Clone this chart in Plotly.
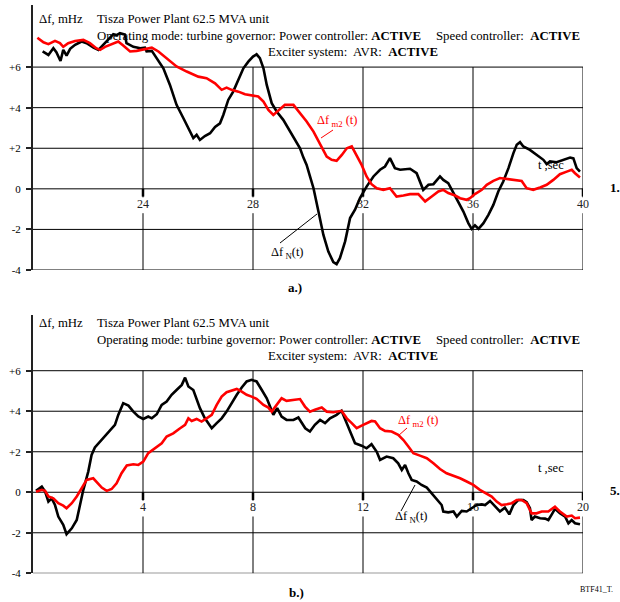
import plotly.graph_objects as go

W, H = 620, 602

# ---------------- data ----------------
top_N_t = [20.35, 20.56, 20.74, 20.85, 21.0, 21.1, 21.22, 21.35, 21.53, 21.77, 21.95, 22.2, 22.38, 22.56,
           22.8, 22.92, 23.04, 23.16, 23.34, 23.4, 23.65, 23.9, 24.07, 24.13, 24.32, 24.5, 24.74, 24.98,
           25.22, 25.47, 25.65, 25.83, 25.95, 26.07, 26.25, 26.44, 26.62, 26.8, 26.92, 27.1, 27.28, 27.47,
           27.65, 27.83, 28.0, 28.13, 28.25, 28.38, 28.5, 28.68, 28.86, 29.1, 29.28, 29.47, 29.71, 29.83,
           29.95, 30.07, 30.2, 30.38, 30.56, 30.74, 30.92, 31.04, 31.16, 31.35, 31.53, 31.71, 31.89, 32.13,
           32.38, 32.62, 32.8, 32.98, 33.16, 33.35, 33.71, 33.95, 34.19, 34.38, 34.56, 34.8, 34.92, 35.1,
           35.29, 35.47, 35.65, 35.83, 35.95, 36.07, 36.2, 36.38, 36.56, 36.74, 36.92, 37.1, 37.29, 37.47,
           37.59, 37.71, 37.83, 38.07, 38.31, 38.56, 38.68, 38.8, 39.04, 39.28, 39.53, 39.65, 39.77, 39.89]
top_N = [6.77, 6.6, 6.93, 6.73, 6.3, 6.85, 6.57, 6.9, 7.1, 7.26, 7.18, 6.96, 6.85, 7.1,
         7.45, 7.62, 7.58, 7.67, 7.6, 7.18, 7.0, 6.93, 6.96, 6.77, 6.8, 6.44, 5.94, 5.12,
         4.14, 3.48, 2.99, 2.5, 2.66, 2.41, 2.6, 2.74, 3.05, 3.23, 3.64, 4.38, 4.79, 5.37,
         5.94, 6.27, 6.52, 6.63, 6.44, 5.94, 5.12, 4.22, 3.81, 3.4, 2.99, 2.5, 2.0, 1.55,
         1.18, 0.63, 0.03, -1.12, -2.27, -3.09, -3.61, -3.71, -3.42, -2.59, -1.44, -1.03, -0.46, 0.11,
         0.61, 0.94, 1.1, 1.51, 1.02, 0.94, 0.99, 0.77, -0.05, 0.2, 0.23, 0.61, 0.44, 0.28,
         -0.21, -0.62, -1.12, -1.69, -1.97, -1.8, -1.97, -1.69, -1.28, -0.79, -0.13, 0.36, 1.02, 1.76,
         2.17, 2.3, 2.09, 1.92, 1.67, 1.43, 1.22, 1.35, 1.31, 1.43, 1.54, 1.5, 1.02, 0.85]

top_m2_t = [20.16, 20.38, 20.56, 20.8, 20.98, 21.1, 21.28, 21.53, 21.83, 22.07, 22.3, 22.44, 22.62, 22.86,
            23.1, 23.28, 23.53, 23.77, 24.07, 24.32, 24.56, 24.86, 25.22, 25.59, 25.83, 26.01, 26.31, 26.62,
            26.86, 27.04, 27.22, 27.47, 27.71, 27.95, 28.19, 28.38, 28.56, 28.74, 28.92, 29.16, 29.47, 29.71,
            29.95, 30.2, 30.44, 30.68, 30.86, 31.04, 31.23, 31.41, 31.59, 31.77, 31.95, 32.13, 32.31, 32.5,
            32.74, 32.98, 33.22, 33.47, 33.71, 34.01, 34.26, 34.5, 34.74, 34.92, 35.1, 35.35, 35.53, 35.77,
            35.89, 36.07, 36.32, 36.5, 36.74, 36.98, 37.23, 37.53, 37.77, 37.95, 38.19, 38.44, 38.68, 38.92,
            39.16, 39.41, 39.59, 39.71, 39.89]
top_m2 = [7.45, 7.22, 7.13, 7.29, 7.18, 7.0, 7.18, 7.29, 7.34, 7.18, 6.93, 6.85, 7.0, 7.13,
          7.26, 7.06, 6.77, 6.8, 6.9, 6.96, 6.77, 6.44, 6.03, 5.78, 5.62, 5.53, 5.45, 5.2,
          4.88, 4.99, 4.88, 4.79, 4.66, 4.6, 4.55, 4.3, 3.89, 3.64, 3.84, 4.14, 4.14, 3.73,
          3.32, 2.82, 2.17, 1.59, 1.43, 1.38, 1.67, 2.0, 2.09, 1.67, 1.18, 0.61, 0.23, 0.03,
          -0.05, 0.03, -0.38, -0.33, -0.26, -0.26, -0.62, -0.38, -0.13, -0.05, -0.21, -0.33, -0.46, -0.54,
          -0.46, -0.26, -0.05, 0.2, 0.39, 0.53, 0.49, 0.44, 0.39, 0.03, -0.05, 0.07, 0.2, 0.44,
          0.72, 0.85, 0.94, 0.77, 0.56]

bot_N_t = [0.11, 0.32, 0.44, 0.56, 0.68, 0.8, 0.92, 1.1, 1.22, 1.41, 1.59, 1.71, 1.83, 2.01, 2.13, 2.25,
           2.44, 2.62, 2.8, 2.98, 3.1, 3.28, 3.47, 3.65, 3.83, 4.01, 4.19, 4.32, 4.5, 4.68, 4.86, 5.04,
           5.22, 5.41, 5.53, 5.65, 5.83, 5.95, 6.07, 6.25, 6.5, 6.68, 6.86, 7.04, 7.22, 7.41, 7.59, 7.77,
           7.95, 8.13, 8.32, 8.5, 8.62, 8.74, 8.88, 9.04, 9.22, 9.47, 9.65, 9.77, 9.9, 10.07, 10.25, 10.44,
           10.62, 10.8, 11.04, 11.22, 11.41, 11.59, 11.71, 11.95, 12.13, 12.31, 12.5, 12.62, 12.86, 13.1,
           13.28, 13.41, 13.53, 13.65, 13.77, 13.95, 14.13, 14.32, 14.5, 14.68, 14.86, 14.92, 15.1, 15.29,
           15.41, 15.59, 15.77, 15.95, 16.13, 16.32, 16.44, 16.62, 16.8, 16.98, 17.16, 17.32, 17.47, 17.65,
           17.83, 17.95, 18.07, 18.13, 18.25, 18.44, 18.62, 18.74, 18.86, 18.98, 19.16, 19.35, 19.47, 19.59,
           19.71, 19.89]
bot_N = [0.07, 0.28, 0.03, -0.46, -0.3, -0.63, -1.2, -1.61, -2.07, -1.78, -1.37, -0.63, 0.12, 1.02, 1.84, 2.21,
         2.5, 2.75, 3.08, 3.33, 3.82, 4.4, 4.28, 3.98, 3.74, 3.62, 3.74, 3.65, 3.85, 4.31, 4.48, 4.81,
         5.05, 5.3, 5.66, 5.22, 5.05, 4.64, 4.15, 3.65, 3.16, 3.41, 3.65, 3.98, 4.4, 4.81, 5.17, 5.47,
         5.55, 5.47, 5.05, 4.64, 4.23, 3.82, 4.15, 3.74, 3.57, 3.57, 3.69, 3.41, 3.16, 3.0, 3.33, 3.57,
         3.41, 3.65, 3.82, 4.02, 3.41, 2.83, 2.42, 2.3, 2.17, 2.37, 2.0, 1.6, 1.76, 1.68,
         1.43, 1.1, 1.35, 0.94, 0.61, 0.53, 0.36, 0.23, -0.05, -0.3, -0.63, -0.95, -0.99, -0.95,
         -1.2, -0.92, -0.95, -0.79, -0.63, -0.6, -0.63, -0.43, -0.71, -0.95, -0.76, -1.09, -0.63, -0.38,
         -0.38, -0.49, -0.79, -1.37, -1.2, -1.28, -1.3, -1.37, -1.1, -0.82, -1.04, -1.2, -1.53, -1.37,
         -1.53, -1.58]

bot_m2_t = [0.11, 0.32, 0.44, 0.56, 0.74, 0.92, 1.1, 1.22, 1.41, 1.59, 1.77, 1.95, 2.19, 2.31, 2.5, 2.68,
            2.86, 3.04, 3.22, 3.41, 3.65, 3.83, 4.01, 4.19, 4.44, 4.68, 4.86, 5.1, 5.35, 5.53, 5.65, 5.77,
            5.95, 6.13, 6.31, 6.5, 6.68, 6.86, 7.04, 7.22, 7.41, 7.59, 7.77, 7.95, 8.13, 8.38, 8.56, 8.68,
            8.86, 9.04, 9.22, 9.47, 9.71, 9.89, 10.07, 10.25, 10.5, 10.68, 10.92, 11.22, 11.41, 11.59, 11.77,
            11.95, 12.13, 12.31, 12.44, 12.62, 12.8, 13.04, 13.28, 13.47, 13.65, 13.83, 14.07, 14.32, 14.56,
            14.8, 15.04, 15.28, 15.53, 15.77, 16.01, 16.25, 16.5, 16.68, 16.86, 17.04, 17.23, 17.41, 17.59,
            17.77, 17.95, 18.13, 18.31, 18.5, 18.74, 18.98, 19.16, 19.41, 19.59, 19.71, 19.89]
bot_m2 = [0.03, 0.12, 0.07, -0.21, -0.3, -0.54, -0.66, -0.79, -0.54, -0.21, 0.2, 0.61, 0.69, 0.53, 0.23, 0.07,
          0.16, 0.44, 0.94, 1.32, 1.38, 1.35, 1.51, 1.93, 2.17, 2.42, 2.75, 2.91, 3.16, 3.33, 3.65, 3.52,
          3.62, 3.49, 3.65, 3.82, 4.31, 4.72, 4.94, 5.0, 5.1, 4.97, 4.81, 4.72, 4.61, 4.31, 4.18, 3.98,
          4.31, 4.64, 4.51, 4.56, 4.6, 4.23, 3.98, 4.07, 4.18, 3.98, 3.95, 4.02, 3.65, 3.41, 3.16,
          3.29, 3.41, 3.52, 3.49, 3.16, 3.03, 3.0, 2.83, 2.58, 2.26, 1.93, 1.81, 1.68, 1.43,
          1.15, 0.94, 0.82, 0.69, 0.53, 0.36, 0.12, -0.05, -0.21, -0.46, -0.63, -0.59, -0.54, -0.38,
          -0.38, -0.54, -1.04, -1.04, -0.95, -0.95, -0.71, -0.95, -1.2, -1.15, -1.28, -1.25]

y_ticks = [-4, -2, 0, 2, 4, 6]
y_ticktext = ["-4", "-2", "0", "+2", "+4", "+6"]
top_x_ticks = [24, 28, 32, 36, 40]
bot_x_ticks = [4, 8, 12, 16, 20]

# ---------------- layout helpers ----------------
def px(x):
    return x / W

def py(y):
    return 1 - y / H

FONT = "Liberation Serif"
RED = "#ff0000"
LBL_Y = -0.78

fig = go.Figure()
# x tick labels drawn as text first, so the curves run over them as in the original
fig.add_trace(go.Scatter(x=top_x_ticks, y=[LBL_Y] * len(top_x_ticks), mode="text",
                         text=[str(t) for t in top_x_ticks], textposition="middle center",
                         textfont=dict(family=FONT, size=12, color="#222"),
                         xaxis="x", yaxis="y", showlegend=False, hoverinfo="skip", cliponaxis=False))
fig.add_trace(go.Scatter(x=bot_x_ticks, y=[LBL_Y] * len(bot_x_ticks), mode="text",
                         text=[str(t) for t in bot_x_ticks], textposition="middle center",
                         textfont=dict(family=FONT, size=12, color="#222"),
                         xaxis="x2", yaxis="y2", showlegend=False, hoverinfo="skip", cliponaxis=False))
fig.add_trace(go.Scatter(x=top_N_t, y=top_N, mode="lines", line=dict(color="black", width=2.6),
                         xaxis="x", yaxis="y", showlegend=False, hoverinfo="skip"))
fig.add_trace(go.Scatter(x=top_m2_t, y=top_m2, mode="lines", line=dict(color=RED, width=2.6),
                         xaxis="x", yaxis="y", showlegend=False, hoverinfo="skip"))
fig.add_trace(go.Scatter(x=bot_N_t, y=bot_N, mode="lines", line=dict(color="black", width=2.6),
                         xaxis="x2", yaxis="y2", showlegend=False, hoverinfo="skip"))
fig.add_trace(go.Scatter(x=bot_m2_t, y=bot_m2, mode="lines", line=dict(color=RED, width=2.6),
                         xaxis="x2", yaxis="y2", showlegend=False, hoverinfo="skip"))

xdom = [px(33), px(583)]
yax_common = dict(tickvals=y_ticks, ticktext=y_ticktext, ticks="outside", ticklen=5, tickwidth=1.5,
                  tickcolor="#222", showline=True, linecolor="#222", linewidth=2, showgrid=False,
                  zeroline=False, tickfont=dict(family=FONT, size=11, color="black"), ticklabelstandoff=3,
                  automargin=False)
xax_common = dict(domain=xdom, showticklabels=False, showgrid=False, zeroline=False, showline=False,
                  ticks="", automargin=False)

fig.update_layout(
    width=W, height=H, margin=dict(l=0, r=0, t=0, b=0, autoexpand=False),
    paper_bgcolor="white", plot_bgcolor="white",
    xaxis=dict(range=[20, 40], anchor="y", **xax_common),
    yaxis=dict(range=[-4, 9.06], domain=[py(270), py(5)], anchor="x", **yax_common),
    xaxis2=dict(range=[0, 20], anchor="y2", **xax_common),
    yaxis2=dict(range=[-4, 8.75], domain=[py(573.3), py(315)], anchor="x2", **yax_common),
)

shapes = []
annotations = []
TS = 12.8

def panel(xr, yr, xlo, xticks, title_y0):
    # horizontal grid
    for v in y_ticks:
        shapes.append(dict(type="line", xref=xr, yref=yr, x0=xlo, x1=xticks[-1], y0=v, y1=v,
                           line=dict(color="black", width=1), layer="below"))
    # vertical grid
    for t in xticks:
        shapes.append(dict(type="line", xref=xr, yref=yr, x0=t, x1=t, y0=y_ticks[0], y1=y_ticks[-1],
                           line=dict(color="black", width=1), layer="below"))
    # white gaps behind the tick labels, and the short thick tick marks
    for t in xticks:
        shapes.append(dict(type="rect", xref=xr, yref=yr, x0=t - 0.4, x1=t + 0.4, y0=-1.2, y1=-0.42,
                           line=dict(width=0), fillcolor="white", layer="below"))
        shapes.append(dict(type="line", xref=xr, yref=yr, x0=t, x1=t, y0=0, y1=-0.38,
                           line=dict(color="black", width=2.5), layer="below"))
    # titles
    f = dict(family=FONT, size=TS, color="black")
    annotations.append(dict(xref="paper", yref="paper", x=px(37), y=py(title_y0), xanchor="left",
                            yanchor="middle", showarrow=False, font=f, text="Δf, mHz"))
    annotations.append(dict(xref="paper", yref="paper", x=px(95), y=py(title_y0), xanchor="left",
                            yanchor="middle", showarrow=False, font=f, text="Tisza Power Plant 62.5 MVA unit"))
    annotations.append(dict(xref="paper", yref="paper", x=px(95), y=py(title_y0 + 17), xanchor="left",
                            yanchor="middle", showarrow=False, font=f,
                            text="Operating mode: turbine governor: Power controller: <b>ACTIVE</b>"))
    annotations.append(dict(xref="paper", yref="paper", x=px(582), y=py(title_y0 + 17), xanchor="right",
                            yanchor="middle", showarrow=False, font=f,
                            text="Speed controller:  <b>ACTIVE</b>"))
    annotations.append(dict(xref="paper", yref="paper", x=px(266), y=py(title_y0 + 33), xanchor="left",
                            yanchor="middle", showarrow=False, font=f,
                            text="Exciter system:  AVR:  <b>ACTIVE</b>"))

panel("x", "y", 20, top_x_ticks, 19)
panel("x2", "y2", 0, bot_x_ticks, 323)

def label(x, y, text, color, anchor="left"):
    annotations.append(dict(xref="paper", yref="paper", x=px(x), y=py(y), xanchor=anchor,
                            yanchor="middle", showarrow=False, text=text,
                            font=dict(family=FONT, size=12.5, color=color)))

def leader(x0, y0, x1, y1, color):
    shapes.append(dict(type="line", xref="paper", yref="paper", x0=px(x0), y0=py(y0), x1=px(x1), y1=py(y1),
                       line=dict(color=color, width=1)))

m2_text = "Δf<sub> m2</sub> (t)"
N_text = "Δf<sub> N</sub>(t)"

# top panel labels
label(315, 121, m2_text, RED)
leader(333, 130, 321, 138, RED)
label(269, 253, N_text, "black")
leader(280, 243, 317, 214, "black")
label(536, 165, "t ,sec", "black")
# bottom panel labels
label(396, 421, m2_text, RED)
leader(407, 428, 398, 436, RED)
label(393, 517, N_text, "black")
leader(401, 511, 415, 485, "black")
label(536, 468, "t ,sec", "black")

bold = dict(family=FONT, size=13, color="black")
for x, y, t in [(608, 187, "<b>1.</b>"), (608, 490, "<b>5.</b>"), (286, 287, "<b>a.)</b>"), (287, 592, "<b>b.)</b>")]:
    annotations.append(dict(xref="paper", yref="paper", x=px(x), y=py(y), xanchor="left", yanchor="middle",
                            showarrow=False, text=t, font=bold))
annotations.append(dict(xref="paper", yref="paper", x=px(578), y=py(589), xanchor="left", yanchor="middle",
                        showarrow=False, text="BTF41_T.", font=dict(family=FONT, size=8, color="black")))

fig.update_layout(shapes=shapes, annotations=annotations)
fig.write_html("out.html", config={"displayModeBar": False},
               post_script="document.body.style.margin='0';document.body.style.padding='0';")
